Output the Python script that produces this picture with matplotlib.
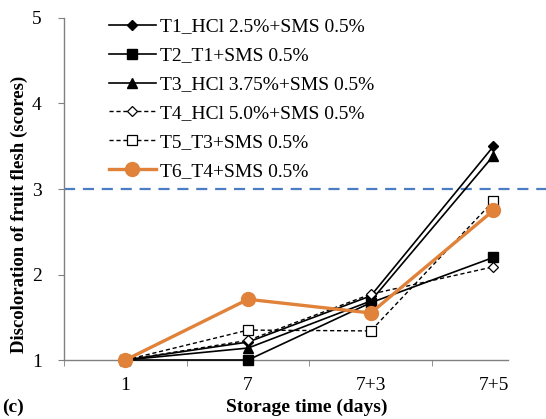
import matplotlib
matplotlib.use("Agg")
import matplotlib.pyplot as plt
from matplotlib.ticker import FixedLocator

plt.rcParams['font.family'] = ['Liberation Serif', 'DejaVu Serif']

categories = ["1", "7", "7+3", "7+5"]
labels = ["T1_HCl 2.5%+SMS 0.5%", "T2_T1+SMS 0.5%", "T3_HCl 3.75%+SMS 0.5%",
          "T4_HCl 5.0%+SMS 0.5%", "T5_T3+SMS 0.5%", "T6_T4+SMS 0.5%"]
T1 = [1.0, 1.21, 1.75, 3.50]
T2 = [1.0, 1.00, 1.67, 2.20]
T3 = [1.0, 1.14, 1.69, 3.39]
T4 = [1.0, 1.23, 1.77, 2.09]
T5 = [1.0, 1.35, 1.34, 2.86]
T6 = [1.0, 1.71, 1.55, 2.75]
threshold = 3.0

W, H = 546, 419
fig = plt.figure(figsize=(W/100, H/100), dpi=100)
ax = fig.add_axes([64/W, 1-360/H, (508-64)/W, (360-18)/H])

x = list(range(len(categories)))
orange = '#E0823A'
styles = [
    dict(color='black', lw=1.2, ls='-', marker='D', ms=5, mfc='black', mec='black'),
    dict(color='black', lw=1.2, ls='-', marker='s', ms=7, mfc='black', mec='black'),
    dict(color='black', lw=1.2, ls='-', marker='^', ms=7, mfc='black', mec='black'),
    dict(color='black', lw=1.0, ls=(0, (3, 2)), marker='D', ms=5.5, mfc='white', mec='black', mew=0.9),
    dict(color='black', lw=1.0, ls=(0, (3, 2)), marker='s', ms=7, mfc='white', mec='black', mew=0.9),
    dict(color=orange, lw=2.4, ls='-', marker='o', ms=10, mfc=orange, mec=orange),
]
series = [T1, T2, T3, T4, T5, T6]
for s, lab, st in zip(series, labels, styles):
    ax.plot(x, s, label=lab, clip_on=False, zorder=3, **st)

ax.axhline(threshold, xmin=0, xmax=(546-64)/(508-64), color='#4A7DC4', lw=1.6,
           ls=(0, (5, 3.5)), clip_on=False, zorder=2)

ax.set_xlim(-0.5, (508-126)/122.5)
ax.set_ylim(1, 5)
ax.set_yticks([1, 2, 3, 4, 5])
ax.set_xticks(x)
ax.set_xticklabels(categories)
ax.xaxis.set_minor_locator(FixedLocator([-0.5, 0.5, 1.5, 2.5]))
ax.tick_params(axis='x', which='major', length=0, pad=12, labelsize=14)
ax.tick_params(axis='x', which='minor', length=4, direction='out', color='#808080')
ax.tick_params(axis='y', length=4, direction='out', color='#808080', pad=12, labelsize=14)
for sp in ['top', 'right']:
    ax.spines[sp].set_visible(False)
for sp in ['left', 'bottom']:
    ax.spines[sp].set_color('#808080')
    ax.spines[sp].set_linewidth(1.0)

ax.set_ylabel("Discoloration of fruit flesh (scores)", fontsize=13.5, fontweight='bold')
ax.yaxis.set_label_coords(-(64-19)/444, (360-214)/342)
ax.set_xlabel("Storage time (days)", fontsize=14, fontweight='bold')
ax.xaxis.set_label_coords((307-64)/444, -(407-360)/342)
ax.xaxis.label.set_va('center')
ax.yaxis.label.set_va('center')

fig.text(2/W, 1-407/H, "(c)", fontsize=14, fontweight='bold', va='center', ha='left')

leg = ax.legend(loc='upper left', bbox_to_anchor=((109-64)/444, 1.0), frameon=False,
                fontsize=14, handlelength=2.4, handletextpad=0.2, labelspacing=0.58,
                borderpad=0, borderaxespad=0)

fig.savefig("out.png", dpi=100)
